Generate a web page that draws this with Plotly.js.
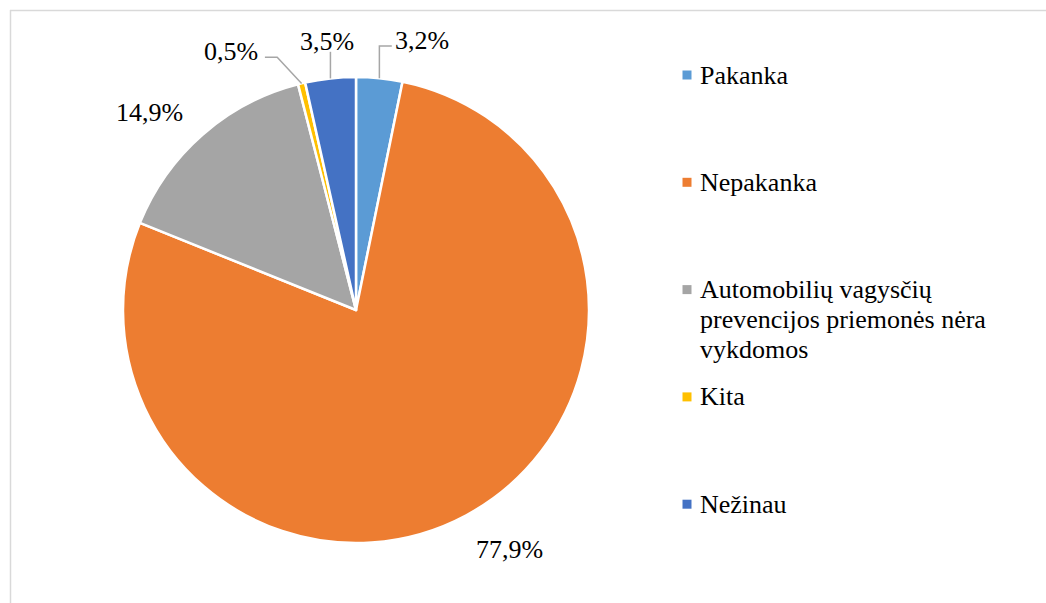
<!DOCTYPE html>
<html>
<head>
<meta charset="utf-8">
<script src="https://cdn.plot.ly/plotly-3.0.1.min.js"></script>
<style>html,body{margin:0;padding:0;background:#fff}#chart{width:1046px;height:603px}</style>
</head>
<body>
<div id="chart"></div>
<script>
// ---- data ----
const categories = ["Pakanka", "Nepakanka", "Automobilių vagysčių prevencijos priemonės nėra vykdomos", "Kita", "Nežinau"];
const values = [3.2, 77.9, 14.9, 0.5, 3.5];
const colors = ["#5B9BD5", "#ED7D31", "#A5A5A5", "#FFC000", "#4472C4"];
const legendLines = [["Pakanka"], ["Nepakanka"], ["Automobilių vagysčių", "prevencijos priemonės nėra", "vykdomos"], ["Kita"], ["Nežinau"]];

// ---- style / layout ----
const W = 1046, H = 603;
const FONT = "Liberation Serif";
const FS = 26;
const px = x => x / W;
const py = y => 1 - y / H;

const cx = 356, cy = 310, r = 233;
// label offsets (pixels from the slice's outer-edge midpoint)
const labelOffsets = [[42.6, -37.2], [43.6, 33.9], [-52.5, -22.7], [-70.6, -32.4], [-3.4, -37.4]];
// leader line polylines (pixel offsets from the slice's outer-edge midpoint); null = none
const leaders = [
  [[0, 0], [0, -32.3], [12.4, -32.3]],
  null,
  null,
  [[0, 0], [-24.4, -26.1], [-36.7, -26.1]],
  [[0, 0], [0, -26.6]]
];

const trace = {
  type: "pie",
  labels: categories,
  values: values,
  sort: false,
  direction: "clockwise",
  rotation: 0,
  marker: {colors: colors, line: {color: "#ffffff", width: 2.5}},
  textposition: "none",
  domain: {x: [px(cx - r), px(cx + r)], y: [py(cy + r), py(cy - r)]},
  automargin: false,
  showlegend: false,
  hoverinfo: "label+percent"
};

const annotations = [];
const shapes = [
  {type: "line", xref: "paper", yref: "paper", x0: px(10.5), x1: px(10.5), y0: py(10), y1: py(H), line: {color: "#d9d9d9", width: 1.5}},
  {type: "line", xref: "paper", yref: "paper", x0: px(10), x1: px(W), y0: py(10.5), y1: py(10.5), line: {color: "#d9d9d9", width: 1.5}}
];

const total = values.reduce((a, b) => a + b, 0);
let cum = 0;
values.forEach((v, i) => {
  const mid = (cum + v / 2) / total * 2 * Math.PI;
  cum += v;
  const ex = cx + r * Math.sin(mid), ey = cy - r * Math.cos(mid);
  const txt = (v / total * 100).toFixed(1).replace(".", ",") + "%";
  const [ox, oy] = labelOffsets[i];
  annotations.push({xref: "paper", yref: "paper", x: px(ex + ox), y: py(ey + oy),
    xanchor: "center", yanchor: "middle", text: txt, showarrow: false,
    font: {family: FONT, size: FS, color: "#000000"}});
  if (leaders[i]) {
    const path = leaders[i].map((p, k) => (k ? "L" : "M") + px(ex + p[0]) + "," + py(ey + p[1])).join(" ");
    shapes.push({type: "path", xref: "paper", yref: "paper", path: path,
      line: {color: "#a6a6a6", width: 1.5}});
  }
});

const legX = 687, legY0 = 75, legStep = 107.3, lineStep = 30;
legendLines.forEach((lines, i) => {
  const yc = legY0 + i * legStep;
  shapes.push({type: "rect", xref: "paper", yref: "paper",
    x0: px(legX - 4.5), x1: px(legX + 4.5), y0: py(yc + 4.5), y1: py(yc - 4.5),
    fillcolor: colors[i], line: {width: 0}});
  lines.forEach((t, j) => {
    annotations.push({xref: "paper", yref: "paper", x: px(legX + 11), y: py(yc + j * lineStep),
      xanchor: "left", yanchor: "middle", text: t, showarrow: false,
      font: {family: FONT, size: FS, color: "#000000"}});
  });
});

const layout = {
  width: W, height: H,
  margin: {l: 0, r: 0, t: 0, b: 0},
  paper_bgcolor: "#ffffff",
  separators: ",.",
  showlegend: false,
  shapes: shapes,
  annotations: annotations
};

Plotly.newPlot("chart", [trace], layout, {displayModeBar: false, staticPlot: true});
</script>
</body>
</html>
